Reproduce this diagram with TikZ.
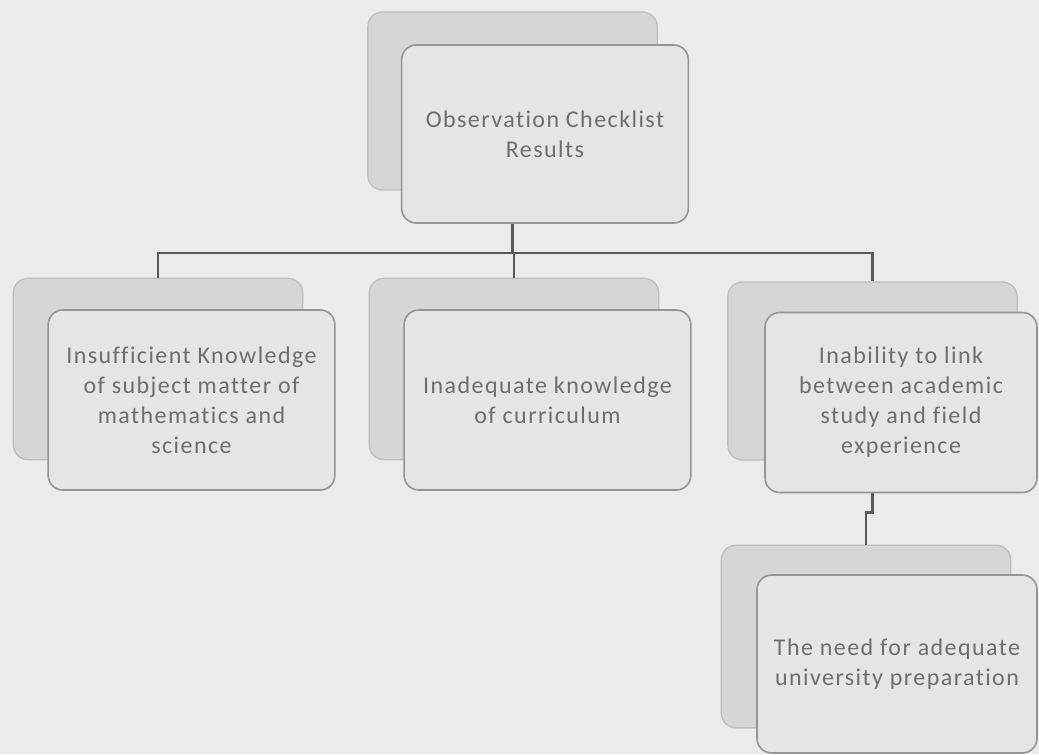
\documentclass[tikz,border=0pt]{standalone}
\usepackage{fontspec}
\setmainfont{Carlito}
\newfontfamily\boxfont[LetterSpace=6,Ligatures=NoCommon]{Carlito}
\usepackage{tikz}

\definecolor{pagegray}{HTML}{EBEBEB}
\definecolor{backgray}{HTML}{D6D6D6}
\definecolor{frontgray}{HTML}{E5E5E5}
\definecolor{edgegray}{HTML}{959595}
\definecolor{linegray}{HTML}{585858}
\definecolor{textgray}{HTML}{6E6E6E}

\begin{document}
\begin{tikzpicture}[x=0.75pt, y=-0.75pt,
  backbox/.style={draw=edgegray!60, line width=1pt, fill=backgray, rounded corners=11pt,
    minimum width=217pt, minimum height=136pt, inner sep=0pt},
  frontbox/.style={draw=edgegray, line width=1.2pt, fill=frontgray, rounded corners=11pt,
    minimum width=215pt, minimum height=135pt, inner sep=0pt, align=center,
    text=textgray, font=\boxfont\fontsize{18}{22.5}\selectfont},
  link/.style={draw=linegray, line width=2pt}]
\useasboundingbox[fill=pagegray] (0,0) rectangle (1039,754);

\node[backbox, minimum height=133.5pt] (obsBack) at (512.5,101) {};
\node[backbox] (knowBack) at (158,369) {};
\node[backbox] (currBack) at (514,369) {};
\node[backbox, minimum height=133.5pt] (linkBack) at (872.5,371) {};
\node[backbox, minimum height=137pt] (needBack) at (866,636.5) {};

\coordinate (bus) at (512.5,253);
\draw[link] (obsBack.south) -- (bus);
\draw[link] (bus) -| (knowBack.north);
\draw[link] (bus) -| (currBack.north);
\draw[link] (bus) -| (linkBack.north);
\draw[link] (linkBack.south) -- ++(0,52) -| (needBack.north);

\node[frontbox, minimum height=133.5pt] (obsBox) at (545,134) {Observation Checklist\\Results};
\node[frontbox] (knowBox) at (191.5,400) {Insufficient Knowledge\\of subject matter of\\mathematics and\\science};
\node[frontbox] (currBox) at (547.5,400) {Inadequate knowledge\\of curriculum};
\node[frontbox, minimum width=204pt] (linkBox) at (901,402.5) {Inability to link\\between academic\\study and field\\experience};
\node[frontbox, minimum width=210pt, minimum height=133.5pt] (needBox) at (897,664) {The need for adequate\\university preparation};
\end{tikzpicture}
\end{document}
